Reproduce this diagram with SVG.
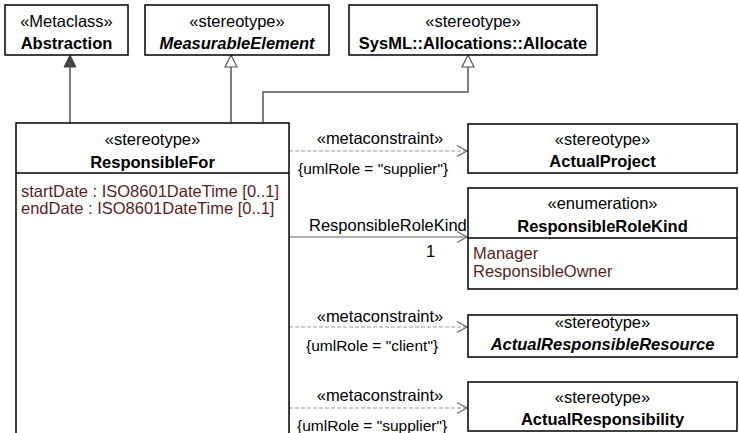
<svg xmlns="http://www.w3.org/2000/svg" width="739" height="433" viewBox="0 0 739 433">
<style>
text{font-family:"Liberation Sans",Arial,sans-serif;font-size:16.5px;fill:#000}
.b{font-weight:bold}
.i{font-style:italic}
.m{text-anchor:middle}
.c{font-size:15.5px}
.attr{fill:#5a1e1e}
.box{fill:#fff;stroke:#000;stroke-width:1.5}
.div{stroke:#000;stroke-width:1.5}
.gen{fill:none;stroke:#555;stroke-width:1.5}
.dash{fill:none;stroke:#999;stroke-width:1.2;stroke-dasharray:4,2}
.sol{fill:none;stroke:#666;stroke-width:1.2}
.head{fill:none;stroke:#666;stroke-width:1.2}
</style>
<g id="connectors">
<line class="gen" x1="70" y1="67" x2="70" y2="123"/>
<polygon points="70,55 64,67 76,67" fill="#444" stroke="#444" stroke-width="1"/>
<line class="gen" x1="231" y1="67" x2="231" y2="123"/>
<polygon points="231,55 225,67 237,67" fill="#fff" stroke="#555" stroke-width="1.2"/>
<polyline class="gen" points="468,67 468,92 263,92 263,123"/>
<polygon points="468,55 462,67 474,67" fill="#fff" stroke="#555" stroke-width="1.2"/>
<line class="dash" x1="289" y1="151" x2="467" y2="151"/>
<polyline class="head" points="457,145.5 467,151 457,156.5"/>
<text class="m" x="380" y="144">«metaconstraint»</text>
<text class="c" x="298" y="174">{umlRole = "supplier"}</text>
<line class="sol" x1="289" y1="237" x2="467" y2="237"/>
<polyline class="head" points="457,231.5 467,237 457,242.5"/>
<text x="309" y="231">ResponsibleRoleKind</text>
<text x="426" y="257">1</text>
<line class="dash" x1="289" y1="327" x2="467" y2="327"/>
<polyline class="head" points="457,321.5 467,327 457,332.5"/>
<text class="m" x="380" y="322">«metaconstraint»</text>
<text class="c" x="306" y="351">{umlRole = "client"}</text>
<line class="dash" x1="289" y1="408" x2="467" y2="408"/>
<polyline class="head" points="457,402.5 467,408 457,413.5"/>
<text class="m" x="380" y="401">«metaconstraint»</text>
<text class="c" x="297" y="431">{umlRole = "supplier"}</text>
</g>
<g id="Abstraction">
<rect class="box" x="5" y="5" width="123" height="50"/>
<text class="m" x="66.5" y="27">«Metaclass»</text>
<text class="m b" x="66.5" y="49">Abstraction</text>
</g>
<g id="MeasurableElement">
<rect class="box" x="145" y="5" width="184" height="50"/>
<text class="m" x="237" y="27">«stereotype»</text>
<text class="m b i" x="237" y="49">MeasurableElement</text>
</g>
<g id="Allocate">
<rect class="box" x="349" y="5" width="248" height="50"/>
<text class="m" x="473" y="27">«stereotype»</text>
<text class="m b" x="473" y="49">SysML::Allocations::Allocate</text>
</g>
<g id="ResponsibleFor">
<rect class="box" x="16" y="123" width="273" height="330"/>
<line class="div" x1="16" y1="173" x2="289" y2="173"/>
<text class="m" x="152.5" y="145">«stereotype»</text>
<text class="m b" x="152.5" y="168">ResponsibleFor</text>
<text class="attr" x="21" y="197">startDate : ISO8601DateTime [0..1]</text>
<text class="attr" x="21" y="214">endDate : ISO8601DateTime [0..1]</text>
</g>
<g id="ActualProject">
<rect class="box" x="468" y="124" width="269" height="49"/>
<text class="m" x="602.5" y="145">«stereotype»</text>
<text class="m b" x="602.5" y="167">ActualProject</text>
</g>
<g id="ResponsibleRoleKind">
<rect class="box" x="468" y="188" width="269" height="101"/>
<line class="div" x1="468" y1="238" x2="737" y2="238"/>
<text class="m" x="602.5" y="209">«enumeration»</text>
<text class="m b" x="602.5" y="232">ResponsibleRoleKind</text>
<text class="attr" x="473" y="259">Manager</text>
<text class="attr" x="473" y="277">ResponsibleOwner</text>
</g>
<g id="ActualResponsibleResource">
<rect class="box" x="468" y="315" width="269" height="42"/>
<text class="m" x="602.5" y="328">«stereotype»</text>
<text class="m b i" x="602.5" y="350">ActualResponsibleResource</text>
</g>
<g id="ActualResponsibility">
<rect class="box" x="468" y="382" width="269" height="49"/>
<text class="m" x="602.5" y="403">«stereotype»</text>
<text class="m b" x="602.5" y="425">ActualResponsibility</text>
</g>
</svg>
